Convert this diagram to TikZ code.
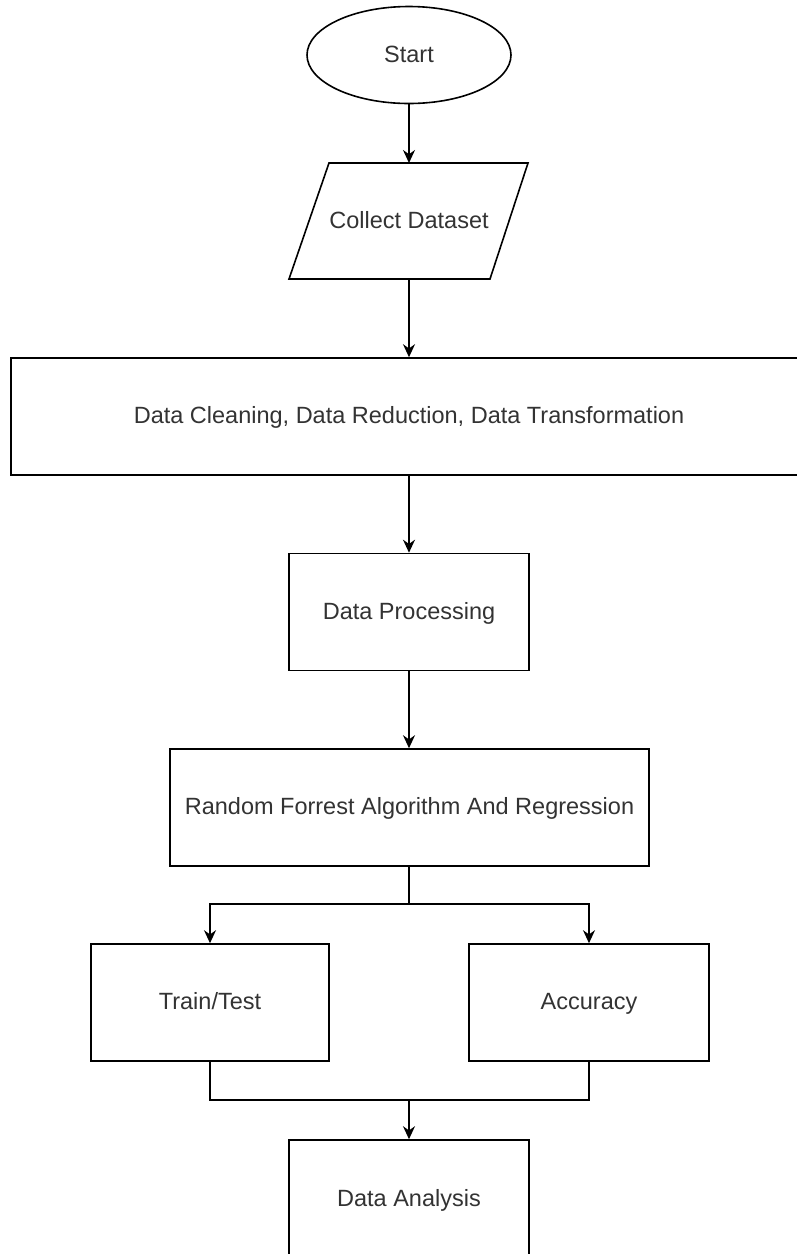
\documentclass[tikz,border=0pt]{standalone}
\usepackage{fontspec}
\setmainfont{Liberation Sans}
\usetikzlibrary{arrows.meta,shapes.geometric}
\definecolor{inkline}{HTML}{000000}
\definecolor{inktext}{HTML}{333333}
\tikzset{
  every node/.style={font=\fontsize{23.5}{28}\selectfont, text=inktext, text height=1.55em, text depth=0.1em},
  procbox/.style={draw=inkline, line width=1.6pt, rectangle, minimum width=240pt, minimum height=117pt, inner sep=0pt},
  terminal/.style={draw=inkline, line width=1.6pt, ellipse, minimum width=204pt, minimum height=97pt, inner sep=0pt},
  ghost/.style={rectangle, minimum width=200pt, minimum height=116pt, inner sep=0pt},
  flow/.style={draw=inkline, line width=1.6pt, -{Stealth[length=13pt,width=12pt]}},
  wire/.style={draw=inkline, line width=1.6pt}
}
\begin{document}
\begin{tikzpicture}[x=1pt,y=-1pt]
\clip (0,0) rectangle (797,1254);
\fill[white] (0,0) rectangle (797,1254);

% nodes of the flow
\node[terminal] (start) at (409,55) {Start};
\node[ghost] (collect) at (409,221) {Collect Dataset};
\draw[wire] (329,163) -- (528,163) -- (490,279) -- (289,279) -- cycle;
\node[procbox, minimum width=796pt] (clean) at (409,416.5) {Data Cleaning, Data Reduction, Data Transformation};
\node[procbox] (proc) at (409,612) {Data Processing};
\node[procbox, minimum width=479pt] (rf) at (409.5,807.5) {Random Forrest Algorithm And Regression};
\node[procbox, minimum width=238pt] (train) at (210,1002.5) {Train/Test};
\node[procbox] (acc) at (589,1002.5) {Accuracy};
\node[procbox, minimum height=118pt] (analysis) at (409,1199) {Data Analysis};

% branching points
\coordinate (split) at (409,904);
\coordinate (join) at (409,1100);

% connectors
\draw[flow] (start.south) -- (collect.south |- 0,163);
\draw[flow] (409,279) -- (clean.north);
\draw[flow] (clean.south) -- (proc.north);
\draw[flow] (proc.south) -- (rf.north -| proc.south);
\draw[wire] (rf.south -| split) -- (split);
\draw[flow] (split) -| (train.north);
\draw[flow] (split) -| (acc.north);
\draw[wire] (train.south) |- (join);
\draw[wire] (acc.south) |- (join);
\draw[flow] (join) -- (analysis.north);
\end{tikzpicture}
\end{document}
